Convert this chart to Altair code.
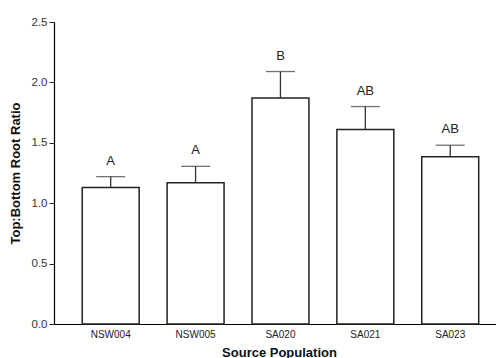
import altair as alt
import pandas as pd

populations = ["NSW004", "NSW005", "SA020", "SA021", "SA023"]
means = [1.13, 1.17, 1.87, 1.61, 1.385]
sems = [0.09, 0.135, 0.22, 0.19, 0.095]
letters = ["A", "A", "B", "AB", "AB"]
y_ticks = [0.0, 0.5, 1.0, 1.5, 2.0, 2.5]

df = pd.DataFrame({"pop": populations, "mean": means, "sem": sems, "letter": letters})
df["upper"] = df["mean"] + df["sem"]

FONT = "Liberation Sans"

x = alt.X(
    "pop:N",
    sort=populations,
    scale=alt.Scale(paddingInner=0.329, paddingOuter=0.268, align=0.62),
    axis=alt.Axis(
        title="Source Population",
        labelAngle=0,
        ticks=False,
        labelPadding=5,
        labelFontSize=10,
        labelColor="#222",
        labelFont=FONT,
        domainColor="#000",
        domainWidth=1.2,
        titleFont=FONT,
        titleFontSize=13,
        titleFontWeight="bold",
        titleColor="#111",
        titleBaseline="alphabetic",
        titleY=32,
        titleX=225,
    ),
)
yscale = alt.Scale(domain=[0, 2.5], nice=False, zero=True)

bars = alt.Chart(df).mark_bar(
    fill="white", stroke="#222", strokeWidth=1.5
).encode(
    x=x,
    y=alt.Y(
        "mean:Q",
        scale=yscale,
        axis=alt.Axis(
            title="Top:Bottom Root Ratio",
            values=y_ticks,
            format=".1f",
            grid=False,
            tickSize=5,
            tickColor="#222",
            labelPadding=2,
            labelFontSize=11.5,
            labelColor="#333",
            labelFont=FONT,
            domainColor="#000",
            domainWidth=1.2,
            titleFont=FONT,
            titleFontSize=13,
            titleFontWeight="bold",
            titleColor="#111",
            titleAngle=-90,
            titleBaseline="middle",
            titleAlign="center",
            titleX=-39,
            titleY=151,
        ),
    ),
)

err = alt.Chart(df).mark_rule(color="#333", strokeWidth=1.3).encode(
    x=alt.X("pop:N", sort=populations),
    y=alt.Y("mean:Q", scale=yscale),
    y2="upper:Q",
)

caps = alt.Chart(df).mark_tick(color="#333", thickness=1.3, size=29).encode(
    x=alt.X("pop:N", sort=populations),
    y=alt.Y("upper:Q", scale=yscale),
)

labels = alt.Chart(df).mark_text(
    dy=-16, fontSize=13, font=FONT, color="#222", baseline="middle"
).encode(
    x=alt.X("pop:N", sort=populations),
    y=alt.Y("upper:Q", scale=yscale),
    text="letter:N",
)

chart = alt.layer(bars, err, caps, labels).properties(
    width=442,
    height=302,
    autosize=alt.AutoSizeParams(type="none"),
    padding={"left": 46, "top": 14, "right": 0, "bottom": 34},
    background="white",
).configure_view(stroke=None)

chart.save("out.html", embed_options={"renderer": "svg", "actions": False})
